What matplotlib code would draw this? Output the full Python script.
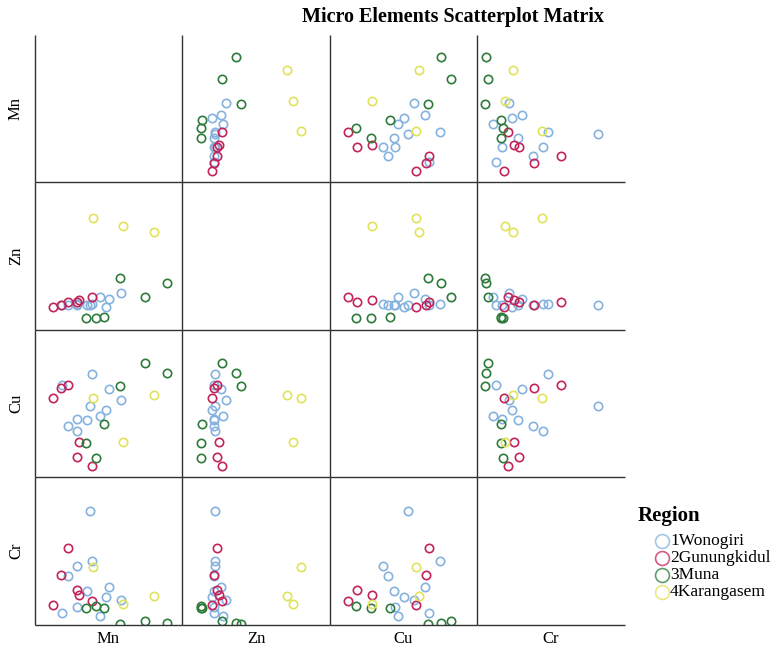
import matplotlib.pyplot as plt
from matplotlib.lines import Line2D

# Scatterplot matrix of micro element levels by region (unitless relative scale)
elements = ['Mn', 'Zn', 'Cu', 'Cr']
region_labels = ['1Wonogiri', '2Gunungkidul', '3Muna', '4Karangasem']
region_colors = ['#86b2df', '#c2245a', '#2e7b3b', '#e2e25a']

region = [1, 1, 1, 1, 1, 1, 1, 1, 1, 1, 1,
          2, 2, 2, 2, 2, 2,
          3, 3, 3, 3, 3, 3,
          4, 4, 4]
mn = [79.3, 67.3, 63.7, 58.0, 50.0, 48.0, 44.5, 34.7, 34.7, 26.0, 20.0,
      50.3, 35.3, 36.7, 26.0, 18.7, 11.3,
      125.3, 103.0, 77.7, 62.0, 54.0, 44.0,
      111.7, 81.0, 51.3]
zn = [37.0, 31.5, 23.3, 33.5, 26.0, 25.5, 25.0, 26.0, 25.0, 25.0, 25.0,
      32.8, 28.3, 30.0, 28.0, 25.2, 23.2,
      46.7, 33.0, 51.7, 13.3, 12.0, 12.0,
      97.7, 104.3, 111.7]
cu = [77.3, 88.0, 67.0, 60.7, 103.0, 70.7, 57.0, 46.3, 58.0, 51.3, 92.0,
      11.3, 20.0, 34.7, 92.0, 88.7, 78.7,
      103.7, 114.0, 91.0, 53.3, 19.0, 34.0,
      82.3, 34.7, 78.7]
cr = [25.3, 37.7, 28.3, 9.3, 63.7, 114.3, 34.3, 59.3, 17.7, 48.7, 11.7,
      24.3, 35.0, 30.0, 77.0, 50.3, 20.0,
      2.0, 4.3, 1.0, 16.7, 19.3, 16.7,
      29.3, 21.0, 58.3]

values = {'Mn': mn, 'Zn': zn, 'Cu': cu, 'Cr': cr}

W, H = 776, 648
# panel sizes in pixels, chosen so every grid line lands on a whole pixel
col_px = [147, 148, 147, 148]
row_px = [147, 148, 147, 148]

fig = plt.figure(figsize=(W / 100, H / 100), dpi=100)
axes = fig.subplots(4, 4, gridspec_kw=dict(left=35 / W, right=625 / W,
                                           bottom=1 - 625 / H, top=1 - 35 / H,
                                           wspace=0, hspace=0,
                                           width_ratios=col_px,
                                           height_ratios=row_px))

line_color = '#333333'
for i, yname in enumerate(elements):
    for j, xname in enumerate(elements):
        ax = axes[i, j]
        ax.patch.set_visible(False)
        ax.set_xlim(-7, col_px[j] - 7)
        ax.set_ylim(0, row_px[i])
        ax.set_xticks([])
        ax.set_yticks([])
        for side in ['top', 'right']:
            ax.spines[side].set_visible(False)
        for side in ['left', 'bottom']:
            ax.spines[side].set_color(line_color)
            ax.spines[side].set_linewidth(1.0)
            ax.spines[side].set_capstyle('butt')
        if i == j:
            continue
        for r, color in enumerate(region_colors, start=1):
            xs = [v for v, g in zip(values[xname], region) if g == r]
            ys = [v for v, g in zip(values[yname], region) if g == r]
            ax.plot(xs, ys, 'o', ms=6.0, mfc='none', mec=color, mew=1.2)

# Row and column labels
font = ['Liberation Serif', 'DejaVu Serif']
edges = [35]
for p in row_px:
    edges.append(edges[-1] + p)
for k, name in enumerate(elements):
    mid = (edges[k] + edges[k + 1]) / 2
    fig.text(16 / W, 1 - mid / H, name, rotation=90, ha='center', va='center',
             family=font, fontsize=12)
    fig.text(mid / W, 1 - 639 / H, name, ha='center', va='center',
             family=font, fontsize=12)

fig.text(453 / W, 1 - 17 / H, 'Micro Elements Scatterplot Matrix',
         ha='center', va='center', family=font, fontsize=14.5, weight='bold')

# Legend, laid out by hand
fig.text(638 / W, 1 - 516 / H, 'Region', ha='left', va='center',
         family=font, fontsize=15, weight='bold')
for k, (label, c) in enumerate(zip(region_labels, region_colors)):
    yk = 1 - (541 + 17 * k) / H
    fig.add_artist(Line2D([662 / W], [yk], transform=fig.transFigure,
                          ls='none', marker='o', ms=10, mfc='none',
                          mec=c, mew=1.2, alpha=0.75))
    fig.text(670 / W, yk, label, ha='left', va='center',
             family=font, fontsize=12.5)

plt.savefig('out.png', dpi=100)
